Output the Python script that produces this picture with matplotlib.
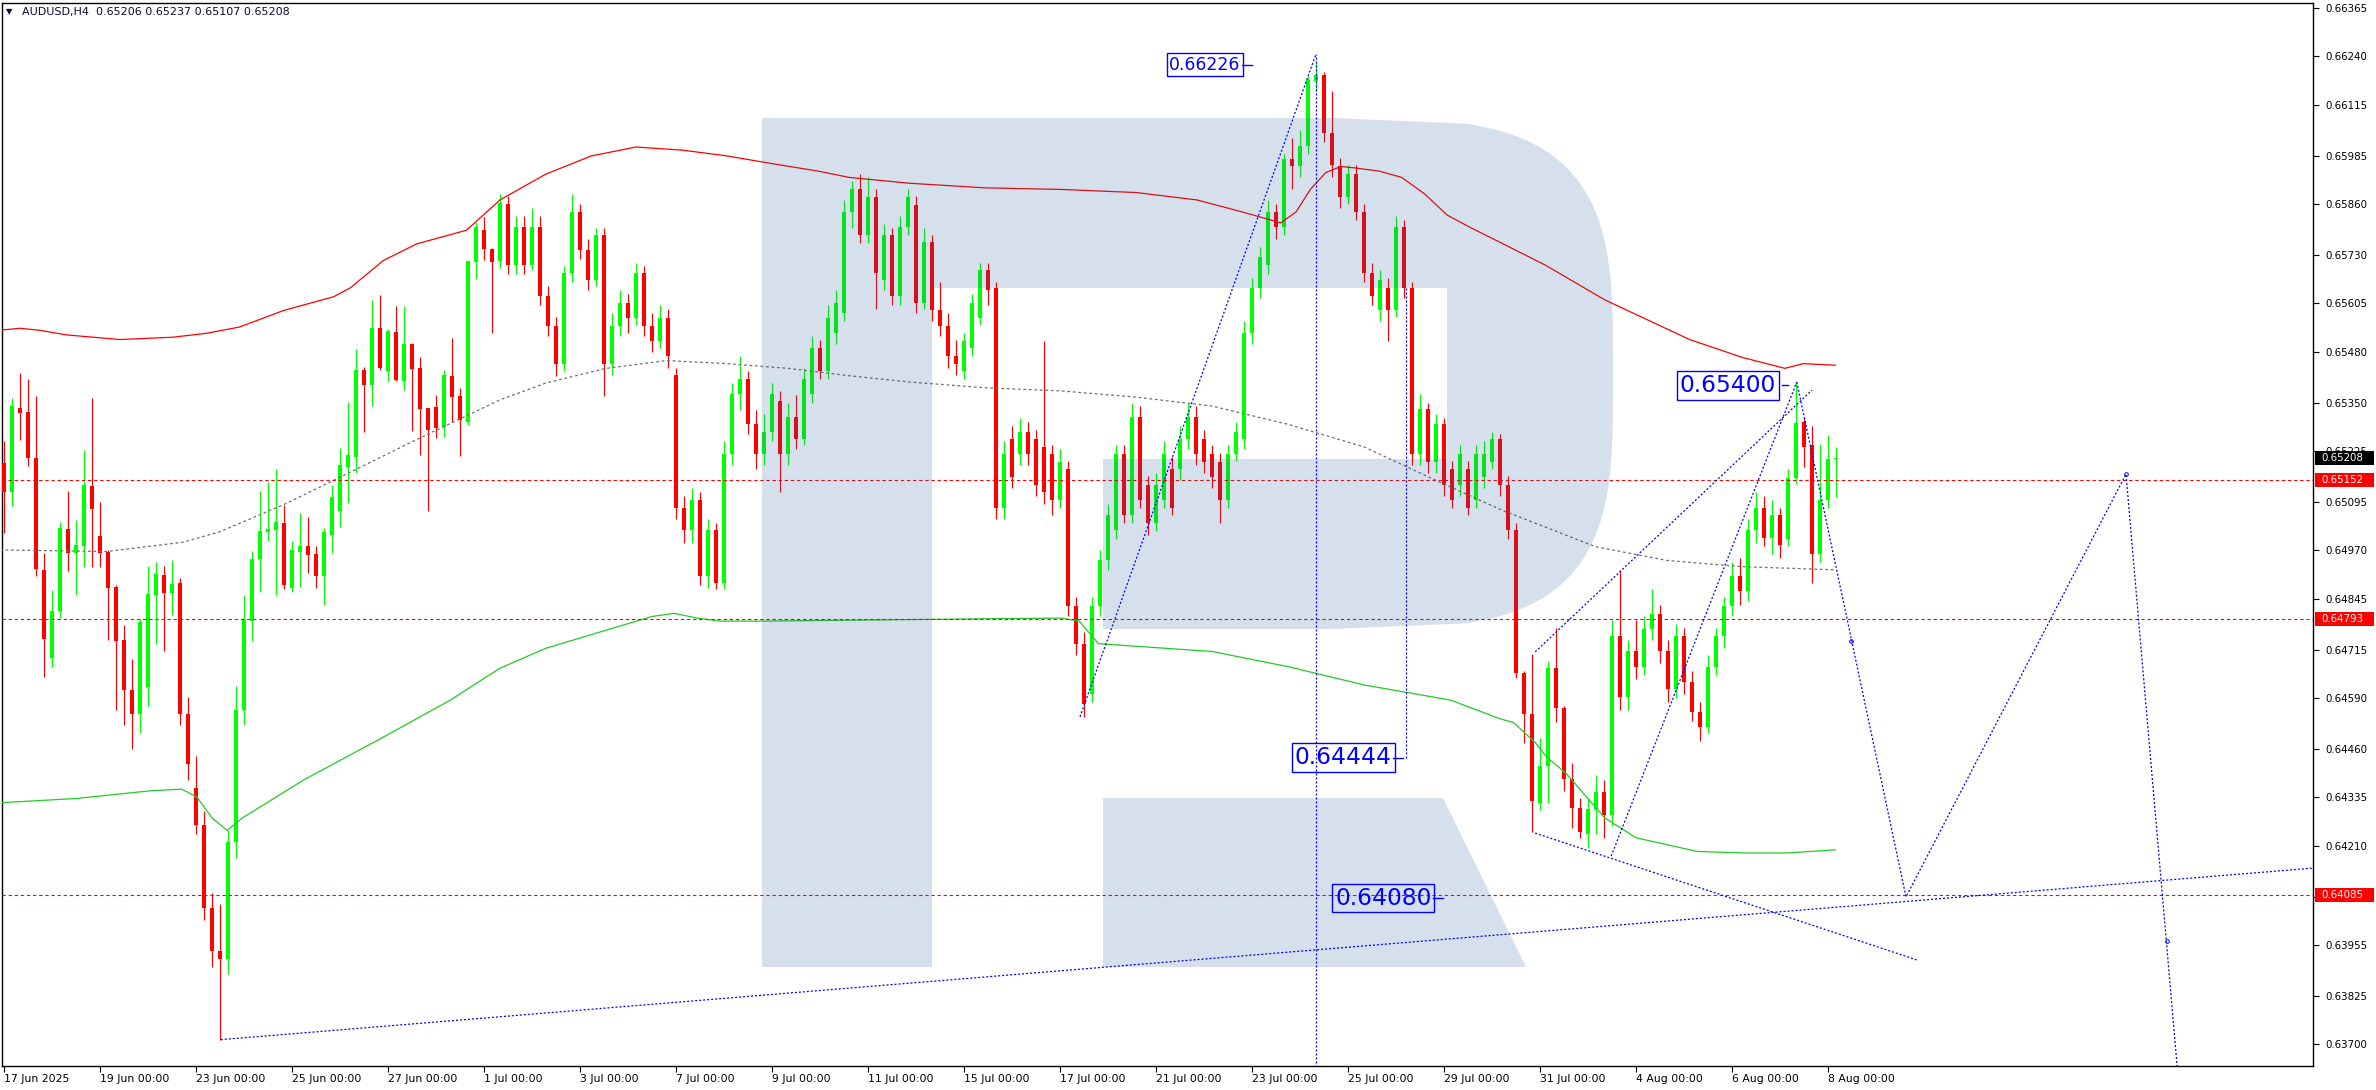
import matplotlib

matplotlib.use("Agg")
import matplotlib.pyplot as plt
import matplotlib.transforms as mtransforms
from matplotlib.patches import Polygon, Rectangle
import numpy as np

W, H = 2376, 1090
AX_L, AX_R, AX_T, AX_B = 2, 2313, 3, 1066   # frame of the price pane, px
BAR_PX, BAR0_PX = 8, 4                       # bar spacing / centre of bar 0, px
PX_PER_PRICE = 38894.0
PRICE_AT_TOP = 0.66385                       # price at pixel row 0

BULL = "#00ff00"
BEAR = "#ff0000"
BLUE = "#0000ff"
LOGO = "#275c9b"

# ---- AUDUSD H4 candles, bar 0 = 17 Jun 2025 00:00 ----
OPEN = [
    0.65194, 0.65121, 0.65335, 0.65325, 0.65207, 0.64920, 0.64692, 0.64813, 0.65024, 0.64962,
    0.64980, 0.65136, 0.65007, 0.64966, 0.64877, 0.64740, 0.64612, 0.64550, 0.64618, 0.64855,
    0.64907, 0.64860, 0.64885, 0.64550, 0.64360, 0.64265, 0.64050, 0.63940, 0.63920, 0.64220,
    0.64560, 0.64789, 0.64947, 0.65016, 0.65023, 0.65041, 0.64874, 0.64967, 0.64981, 0.64961,
    0.64903, 0.65010, 0.65072, 0.65185, 0.65211, 0.65434, 0.65395, 0.65541, 0.65431, 0.65531,
    0.65406, 0.65501, 0.65438, 0.65335, 0.65338, 0.65286, 0.65418, 0.65367, 0.65301, 0.65712,
    0.65794, 0.65745, 0.65714, 0.65860, 0.65703, 0.65801, 0.65703, 0.65801, 0.65625, 0.65548,
    0.65450, 0.65684, 0.65840, 0.65742, 0.65664, 0.65781, 0.65450, 0.65548, 0.65606, 0.65567,
    0.65684, 0.65548, 0.65509, 0.65567, 0.65420, 0.65080, 0.65022, 0.65100, 0.64905, 0.65022,
    0.64885, 0.65217, 0.65372, 0.65411, 0.65294, 0.65217, 0.65275, 0.65353, 0.65217, 0.65314,
    0.65256, 0.65372, 0.65489, 0.65431, 0.65528, 0.65580, 0.65840, 0.65898, 0.65781, 0.65879,
    0.65664, 0.65781, 0.65625, 0.65801, 0.65859, 0.65606, 0.65762, 0.65587, 0.65548, 0.65470,
    0.65431, 0.65489, 0.65567, 0.65690, 0.65645, 0.65080, 0.65256, 0.65217, 0.65275, 0.65256,
    0.65236, 0.65217, 0.65100, 0.65178, 0.64827, 0.64730, 0.64600, 0.64827, 0.64944, 0.65022,
    0.65217, 0.65061, 0.65314, 0.65139, 0.65041, 0.65100, 0.65178, 0.65178, 0.65256, 0.65314,
    0.65256, 0.65217, 0.65197, 0.65100, 0.65217, 0.65256, 0.65528, 0.65645, 0.65703, 0.65840,
    0.65801, 0.65976, 0.65957, 0.66010, 0.66177, 0.66192, 0.66043, 0.65957, 0.65879, 0.65937,
    0.65840, 0.65684, 0.65587, 0.65645, 0.65587, 0.65801, 0.65645, 0.65217, 0.65333, 0.65197,
    0.65294, 0.65178, 0.65139, 0.65178, 0.65100, 0.65158, 0.65197, 0.65256, 0.65139, 0.65022,
    0.64655, 0.64549, 0.64321, 0.64416, 0.64668, 0.64565, 0.64383, 0.64308, 0.64241, 0.64302,
    0.64348, 0.64290, 0.64749, 0.64593, 0.64710, 0.64671, 0.64769, 0.64807, 0.64710, 0.64613,
    0.64749, 0.64632, 0.64554, 0.64515, 0.64671, 0.64749, 0.64827, 0.64905, 0.64866, 0.65022,
    0.65080, 0.65002, 0.65061, 0.65000, 0.65156, 0.65301, 0.65241, 0.64960, 0.65100, 0.65206,
]
HIGH = [
    0.65250, 0.65361, 0.65425, 0.65410, 0.65367, 0.64963, 0.64868, 0.65044, 0.65123, 0.65048,
    0.65228, 0.65361, 0.65095, 0.64971, 0.64881, 0.64778, 0.64690, 0.64793, 0.64930, 0.64939,
    0.64930, 0.64944, 0.64898, 0.64594, 0.64440, 0.64300, 0.64090, 0.64060, 0.64250, 0.64621,
    0.64855, 0.64969, 0.65123, 0.65147, 0.65178, 0.65087, 0.64995, 0.65065, 0.65057, 0.64980,
    0.65027, 0.65138, 0.65232, 0.65352, 0.65488, 0.65442, 0.65614, 0.65627, 0.65539, 0.65598,
    0.65597, 0.65502, 0.65468, 0.65335, 0.65370, 0.65434, 0.65517, 0.65388, 0.65714, 0.65815,
    0.65828, 0.65747, 0.65886, 0.65880, 0.65830, 0.65830, 0.65850, 0.65830, 0.65650, 0.65570,
    0.65700, 0.65886, 0.65860, 0.65770, 0.65800, 0.65800, 0.65580, 0.65640, 0.65630, 0.65710,
    0.65700, 0.65580, 0.65600, 0.65590, 0.65440, 0.65110, 0.65130, 0.65120, 0.65050, 0.65040,
    0.65250, 0.65400, 0.65470, 0.65430, 0.65330, 0.65320, 0.65400, 0.65380, 0.65350, 0.65370,
    0.65440, 0.65520, 0.65510, 0.65600, 0.65640, 0.65870, 0.65920, 0.65937, 0.65930, 0.65900,
    0.65810, 0.65800, 0.65830, 0.65900, 0.65880, 0.65800, 0.65780, 0.65660, 0.65580, 0.65510,
    0.65530, 0.65630, 0.65710, 0.65710, 0.65660, 0.65250, 0.65290, 0.65310, 0.65300, 0.65280,
    0.65509, 0.65240, 0.65230, 0.65200, 0.64850, 0.64760, 0.64850, 0.64970, 0.65090, 0.65240,
    0.65240, 0.65350, 0.65340, 0.65160, 0.65170, 0.65250, 0.65210, 0.65290, 0.65350, 0.65340,
    0.65280, 0.65240, 0.65220, 0.65240, 0.65300, 0.65560, 0.65670, 0.65750, 0.65870, 0.65860,
    0.65990, 0.66030, 0.66050, 0.66190, 0.66226, 0.66200, 0.66151, 0.65980, 0.65960, 0.65960,
    0.65860, 0.65710, 0.65690, 0.65670, 0.65830, 0.65820, 0.65660, 0.65372, 0.65350, 0.65320,
    0.65310, 0.65200, 0.65240, 0.65200, 0.65240, 0.65250, 0.65275, 0.65270, 0.65160, 0.65040,
    0.64660, 0.64703, 0.64488, 0.64686, 0.64771, 0.64570, 0.64422, 0.64332, 0.64332, 0.64392,
    0.64380, 0.64790, 0.64920, 0.64740, 0.64790, 0.64800, 0.64870, 0.64830, 0.64740, 0.64780,
    0.64770, 0.64660, 0.64580, 0.64700, 0.64770, 0.64850, 0.64940, 0.64950, 0.65050, 0.65120,
    0.65110, 0.65100, 0.65080, 0.65180, 0.65404, 0.65313, 0.65290, 0.65243, 0.65267, 0.65237,
]
LOW = [
    0.65014, 0.65083, 0.65254, 0.65187, 0.64904, 0.64645, 0.64671, 0.64795, 0.64918, 0.64855,
    0.64928, 0.64928, 0.64928, 0.64740, 0.64560, 0.64520, 0.64460, 0.64500, 0.64570, 0.64729,
    0.64712, 0.64804, 0.64520, 0.64380, 0.64240, 0.64020, 0.63900, 0.63712, 0.63880, 0.64180,
    0.64520, 0.64738, 0.64864, 0.64993, 0.64854, 0.64870, 0.64864, 0.64877, 0.64913, 0.64874,
    0.64830, 0.64964, 0.65031, 0.65091, 0.65170, 0.65275, 0.65342, 0.65434, 0.65406, 0.65406,
    0.65383, 0.65278, 0.65215, 0.65070, 0.65260, 0.65262, 0.65301, 0.65213, 0.65293, 0.65668,
    0.65717, 0.65528, 0.65697, 0.65680, 0.65680, 0.65680, 0.65690, 0.65600, 0.65520, 0.65419,
    0.65430, 0.65660, 0.65720, 0.65640, 0.65650, 0.65368, 0.65420, 0.65520, 0.65530, 0.65550,
    0.65520, 0.65480, 0.65490, 0.65440, 0.65050, 0.64990, 0.64990, 0.64880, 0.64874, 0.64870,
    0.64870, 0.65190, 0.65330, 0.65270, 0.65180, 0.65190, 0.65250, 0.65119, 0.65190, 0.65230,
    0.65240, 0.65350, 0.65410, 0.65410, 0.65500, 0.65560, 0.65800, 0.65760, 0.65760, 0.65590,
    0.65640, 0.65600, 0.65600, 0.65780, 0.65580, 0.65590, 0.65560, 0.65520, 0.65440, 0.65420,
    0.65410, 0.65470, 0.65550, 0.65600, 0.65050, 0.65050, 0.65130, 0.65190, 0.65190, 0.65110,
    0.65090, 0.65061, 0.65080, 0.64800, 0.64700, 0.64542, 0.64580, 0.64800, 0.64920, 0.65000,
    0.65040, 0.65040, 0.65080, 0.65010, 0.65020, 0.65080, 0.65060, 0.65150, 0.65230, 0.65190,
    0.65170, 0.65130, 0.65041, 0.65080, 0.65200, 0.65230, 0.65500, 0.65620, 0.65680, 0.65770,
    0.65780, 0.65900, 0.65930, 0.65990, 0.66150, 0.66020, 0.65930, 0.65850, 0.65860, 0.65820,
    0.65660, 0.65600, 0.65560, 0.65509, 0.65570, 0.65620, 0.65190, 0.65190, 0.65170, 0.65170,
    0.65110, 0.65080, 0.65110, 0.65061, 0.65080, 0.65130, 0.65180, 0.65110, 0.65000, 0.64643,
    0.64475, 0.64246, 0.64302, 0.64321, 0.64529, 0.64350, 0.64256, 0.64230, 0.64205, 0.64240,
    0.64230, 0.64260, 0.64560, 0.64560, 0.64640, 0.64650, 0.64740, 0.64680, 0.64580, 0.64590,
    0.64600, 0.64530, 0.64480, 0.64500, 0.64650, 0.64720, 0.64800, 0.64830, 0.64840, 0.64990,
    0.64980, 0.64960, 0.64950, 0.64980, 0.65140, 0.65184, 0.64885, 0.64940, 0.65080, 0.65107,
]
CLOSE = [
    0.65121, 0.65340, 0.65324, 0.65207, 0.64921, 0.64743, 0.64814, 0.65027, 0.64964, 0.64984,
    0.65138, 0.65076, 0.64964, 0.64874, 0.64738, 0.64610, 0.64550, 0.64787, 0.64858, 0.64909,
    0.64861, 0.64884, 0.64550, 0.64420, 0.64265, 0.64050, 0.63940, 0.63920, 0.64220, 0.64560,
    0.64791, 0.64948, 0.65020, 0.65025, 0.65044, 0.64881, 0.64971, 0.64981, 0.64958, 0.64903,
    0.65016, 0.65108, 0.65190, 0.65215, 0.65434, 0.65395, 0.65541, 0.65438, 0.65534, 0.65408,
    0.65501, 0.65436, 0.65334, 0.65280, 0.65284, 0.65421, 0.65365, 0.65304, 0.65714, 0.65802,
    0.65745, 0.65712, 0.65862, 0.65703, 0.65801, 0.65703, 0.65801, 0.65625, 0.65548, 0.65450,
    0.65684, 0.65840, 0.65742, 0.65664, 0.65781, 0.65450, 0.65548, 0.65606, 0.65567, 0.65684,
    0.65548, 0.65509, 0.65567, 0.65470, 0.65080, 0.65022, 0.65100, 0.64905, 0.65022, 0.64885,
    0.65217, 0.65372, 0.65411, 0.65294, 0.65217, 0.65275, 0.65372, 0.65217, 0.65314, 0.65256,
    0.65411, 0.65489, 0.65431, 0.65567, 0.65606, 0.65840, 0.65898, 0.65781, 0.65879, 0.65684,
    0.65781, 0.65625, 0.65801, 0.65879, 0.65606, 0.65762, 0.65587, 0.65548, 0.65470, 0.65450,
    0.65509, 0.65606, 0.65690, 0.65640, 0.65080, 0.65217, 0.65158, 0.65275, 0.65217, 0.65139,
    0.65119, 0.65100, 0.65197, 0.64827, 0.64730, 0.64574, 0.64827, 0.64944, 0.65061, 0.65217,
    0.65061, 0.65314, 0.65100, 0.65041, 0.65139, 0.65217, 0.65080, 0.65256, 0.65314, 0.65217,
    0.65197, 0.65158, 0.65100, 0.65217, 0.65275, 0.65528, 0.65645, 0.65723, 0.65840, 0.65801,
    0.65976, 0.65957, 0.66010, 0.66179, 0.66192, 0.66043, 0.65960, 0.65879, 0.65937, 0.65840,
    0.65684, 0.65625, 0.65664, 0.65587, 0.65801, 0.65645, 0.65217, 0.65333, 0.65197, 0.65294,
    0.65139, 0.65100, 0.65217, 0.65080, 0.65217, 0.65217, 0.65256, 0.65139, 0.65022, 0.64655,
    0.64549, 0.64326, 0.64416, 0.64668, 0.64565, 0.64383, 0.64308, 0.64245, 0.64304, 0.64348,
    0.64290, 0.64749, 0.64593, 0.64710, 0.64671, 0.64769, 0.64807, 0.64710, 0.64613, 0.64749,
    0.64632, 0.64554, 0.64515, 0.64671, 0.64749, 0.64827, 0.64905, 0.64866, 0.65022, 0.65080,
    0.65002, 0.65061, 0.64983, 0.65156, 0.65297, 0.65236, 0.64960, 0.65100, 0.65206, 0.65208,
]

# ---- Bollinger-style bands (bar index, price) ----
UPPER_X = [-0.5, 2, 4.4, 7.8, 14.5, 21.1, 25.3, 29.4, 35, 41.2, 43.3, 47.4, 51.6, 57.8, 62,
           67.7, 73.4, 79, 84.8, 90.4, 96.1, 101.8, 105.6, 113.1, 122.6, 132.1, 141.5, 149.1,
           154.8, 159.6, 161.5, 163.3, 165.2, 167.1, 169, 171.9, 174.7, 177.6, 180.4, 183.2,
           187, 192.7, 200.1, 210.7, 217.3, 222.6, 224.9, 228.9]
UPPER_Y = [0.65536, 0.65541, 0.65536, 0.65524, 0.65512, 0.65518, 0.65528, 0.65544, 0.65587,
           0.65622, 0.65645, 0.65715, 0.65758, 0.65793, 0.65871, 0.65937, 0.65984, 0.66007,
           0.65999, 0.65984, 0.65964, 0.65945, 0.65929, 0.65914, 0.65902, 0.65898, 0.65890,
           0.65871, 0.65840, 0.65812, 0.65840, 0.65898, 0.65941, 0.65957, 0.65953, 0.65945,
           0.65929, 0.65886, 0.65832, 0.65801, 0.65762, 0.65703, 0.65614, 0.65512, 0.65466,
           0.65438, 0.65450, 0.65446]
MIDDLE_X = [-0.5, 12.8, 22.4, 27, 35, 41.2, 51.6, 62, 67.7, 75.3, 82.8, 90.4, 98, 105.6,
            113.1, 122.6, 132.1, 141.5, 151, 160.5, 170, 179.4, 187.4, 199, 207.9, 217.3, 228.9]
MIDDLE_Y = [0.64971, 0.64967, 0.64991, 0.65018, 0.65088, 0.65150, 0.65255, 0.65357, 0.65400,
            0.65438, 0.65458, 0.65450, 0.65438, 0.65419, 0.65403, 0.65388, 0.65380, 0.65364,
            0.65341, 0.65294, 0.65236, 0.65146, 0.65072, 0.64979, 0.64944, 0.64928, 0.64920]
LOWER_X = [-0.5, 9, 18.4, 22.2, 24.1, 26, 27.9, 29.8, 37.4, 46.9, 55.8, 62, 67.7, 75.3, 81,
           83.8, 86.6, 89.5, 94.2, 113.1, 132.1, 134.4, 136.8, 151, 160.5, 170, 180.8, 187,
           188.7, 191.4, 192.9, 195.2, 200.1, 204, 211.6, 217.3, 223, 228.9]
LOWER_Y = [0.64321, 0.64332, 0.64352, 0.64356, 0.64336, 0.64282, 0.64250, 0.64282, 0.64379,
           0.64484, 0.64585, 0.64667, 0.64718, 0.64765, 0.64800, 0.64808, 0.64796, 0.64788,
           0.64788, 0.64792, 0.64796, 0.64788, 0.64730, 0.64710, 0.64671, 0.64624, 0.64585,
           0.64537, 0.64527, 0.64476, 0.64437, 0.64398, 0.64282, 0.64231, 0.64196, 0.64192,
           0.64192, 0.64200]

# ---- hand-drawn objects (bar index, price) ----
SUPPORT_X, SUPPORT_Y = [27.1, 288.6], [0.63712, 0.64153]
WAVE_X, WAVE_Y = [134.5, 164.0], [0.64542, 0.66246]
PEAK_X, PEAK_Y = 164.0, 0.66246
DROP_X, DROP_Y = 175.25, [0.65645, 0.64437]
CH_TOP_X, CH_TOP_Y = [191.4, 226.0], [0.64709, 0.65382]
CH_LOW_X, CH_LOW_Y = [191.4, 239.1], [0.64243, 0.63917]
RALLY_X, RALLY_Y = [200.9, 224.1], [0.64184, 0.65403]
PROJ_X = [224.1, 237.75, 265.25, 271.9]
PROJ_Y = [0.65403, 0.64079, 0.65166, 0.63582]
PROJ_MARK_X, PROJ_MARK_Y = [230.9, 265.25, 270.4], [0.64737, 0.65166, 0.63966]
LEVELS = [0.65152, 0.64793, 0.64085]
PRICE_LABELS = ["0.66226", "0.65400", "0.64444", "0.64080"]
LAST_PRICE = 0.65208

PRICE_TICKS = [0.66365, 0.66240, 0.66115, 0.65985, 0.65860, 0.65730, 0.65605, 0.65480,
               0.65350, 0.65225, 0.65095, 0.64970, 0.64845, 0.64715, 0.64590, 0.64460,
               0.64335, 0.64210, 0.64080, 0.63955, 0.63825, 0.63700]
DATE_TICKS = list(range(0, 229, 12))
DATE_LABELS = ["17 Jun 2025", "19 Jun 00:00", "23 Jun 00:00", "25 Jun 00:00", "27 Jun 00:00",
               "1 Jul 00:00", "3 Jul 00:00", "7 Jul 00:00", "9 Jul 00:00", "11 Jul 00:00",
               "15 Jul 00:00", "17 Jul 00:00", "21 Jul 00:00", "23 Jul 00:00", "25 Jul 00:00",
               "29 Jul 00:00", "31 Jul 00:00", "4 Aug 00:00", "6 Aug 00:00", "8 Aug 00:00"]


def price_at(py):
    return PRICE_AT_TOP - py / PX_PER_PRICE


def pf(x, y):
    """pixel (from top-left) -> figure fraction"""
    return (x / W, 1 - y / H)


fig = plt.figure(figsize=(W / 100, H / 100), dpi=100)
fig.patch.set_facecolor("white")
ax = fig.add_axes([AX_L / W, 1 - AX_B / H, (AX_R - AX_L) / W, (AX_B - AX_T) / H])
ax.set_xlim((AX_L - BAR0_PX) / BAR_PX, (AX_R - BAR0_PX) / BAR_PX)
ax.set_ylim(price_at(AX_B), price_at(AX_T))
ax.set_facecolor("white")

# -- candles
idx = np.arange(len(OPEN))
o, hi, lo, c = (np.array(a) for a in (OPEN, HIGH, LOW, CLOSE))
col = np.where(c >= o, BULL, BEAR)
ax.vlines(idx, lo, hi, colors=col, linewidth=0.85, zorder=3)
body = np.maximum(np.abs(c - o), 0.00002)
ax.bar(idx, body, bottom=np.minimum(o, c), width=0.62, color=col, linewidth=0, zorder=4)

# -- bands
ax.plot(UPPER_X, UPPER_Y, color="#ff0000", linewidth=0.9, zorder=5)
ax.plot(MIDDLE_X, MIDDLE_Y, color="#6e6e6e", linewidth=0.9, dashes=(2.2, 2.2), zorder=5)
ax.plot(LOWER_X, LOWER_Y, color="#22cc22", linewidth=0.9, zorder=5)

# -- horizontal levels
for lv in LEVELS:
    ax.axhline(lv, color="#ff0000", linewidth=0.8, dashes=(3, 2.5), zorder=5)

# -- logo watermark (drawn over candles, semi transparent)
ys = np.linspace(118, 629, 90)
dy = ys - 373.5
dx = 280 * np.clip(1 - np.abs(dy / 255.5) ** 3.5, 0, 1) ** (1 / 3.5)
outer = [(762, 118)] + [(1333 + a, b) for a, b in zip(dx, ys)] + [
    (1103, 629), (1103, 459), (1447, 459), (1447, 288), (932, 288), (932, 967), (762, 967)]
leg = [(1103, 798), (1443, 798), (1526, 967), (1103, 967)]
for shape in (outer, leg):
    ax.add_patch(Polygon([pf(*p) for p in shape], closed=True, transform=fig.transFigure,
                         facecolor=LOGO, edgecolor="none", alpha=0.19, zorder=6))

# -- blue drawing objects
dot = dict(color=BLUE, linewidth=0.9, dashes=(1.6, 1.6), zorder=7)
ax.plot(SUPPORT_X, SUPPORT_Y, **dot)
ax.plot(WAVE_X, WAVE_Y, **dot)
ax.plot([PEAK_X, PEAK_X], [price_at(AX_B + 5), PEAK_Y], **dot)
ax.plot([DROP_X, DROP_X], DROP_Y, **dot)
ax.plot(CH_TOP_X, CH_TOP_Y, **dot)
ax.plot(CH_LOW_X, CH_LOW_Y, **dot)
ax.plot(RALLY_X, RALLY_Y, **dot)
ax.plot(PROJ_X, PROJ_Y, **dot)
ax.plot(PROJ_MARK_X, PROJ_MARK_Y, linestyle="none", marker="o", markersize=2.6,
        markerfacecolor="none", markeredgecolor=BLUE, markeredgewidth=0.7, zorder=7)

# price-label objects: text box + short connector
boxes = [  # (centre bar, centre price, font size, connector start, connector end)
    (150.1, 0.66219, 12.4, 154.75, 156.0),
    (215.5, 0.65394, 16.8, 222.25, 223.0),
    (167.4, 0.64437, 16.8, 173.6, 174.9),
    (172.4, 0.64076, 16.8, 178.6, 179.9),
]
for text, (bx, by, fs, c0, c1) in zip(PRICE_LABELS, boxes):
    ax.text(bx, by, text, color=BLUE, fontsize=fs, ha="center", va="center", zorder=8,
            bbox=dict(boxstyle="square,pad=0.12", facecolor="none", edgecolor=BLUE,
                      linewidth=1.0))
    ax.plot([c0, c1], [by, by], color=BLUE, linewidth=1.0, zorder=8)

# -- axes styling
for sp in ax.spines.values():
    sp.set_color("black")
    sp.set_linewidth(1.0)
ax.yaxis.tick_right()
ax.set_yticks(PRICE_TICKS)
ax.set_yticklabels([f"{v:.5f}" for v in PRICE_TICKS])
ax.tick_params(axis="y", direction="out", length=4, width=0.8, pad=5, labelsize=7.4,
               colors="black")
ax.set_xticks(DATE_TICKS)
ax.set_xticklabels(DATE_LABELS)
ax.tick_params(axis="x", direction="out", length=4, width=0.8, pad=2, labelsize=7.8,
               colors="black")
plt.setp(ax.get_xticklabels(), ha="left")

# current price / level tags on the price scale
blend = mtransforms.blended_transform_factory(fig.transFigure, ax.transData)
half = 7 / PX_PER_PRICE
tags = [(LAST_PRICE, "black")] + [(lv, "#ff0000") for lv in LEVELS]
for val, fc in tags:
    ax.add_patch(Rectangle((2315 / W, val - half), 59 / W, 2 * half, transform=blend,
                           facecolor=fc, edgecolor="none", clip_on=False, zorder=10))
    ax.text(2321 / W, val, f"{val:.5f}", transform=blend, color="white", fontsize=7.4,
            ha="left", va="center", clip_on=False, zorder=11)

# header
fig.text(*pf(6, 12), "\u25bc", fontsize=6, color="#0a0a30", va="center", ha="left")
fig.text(*pf(22, 12), "AUDUSD,H4  0.65206 0.65237 0.65107 0.65208", fontsize=8,
         color="#0a0a30", va="center", ha="left")

fig.savefig("out.png", dpi=100, facecolor="white")
